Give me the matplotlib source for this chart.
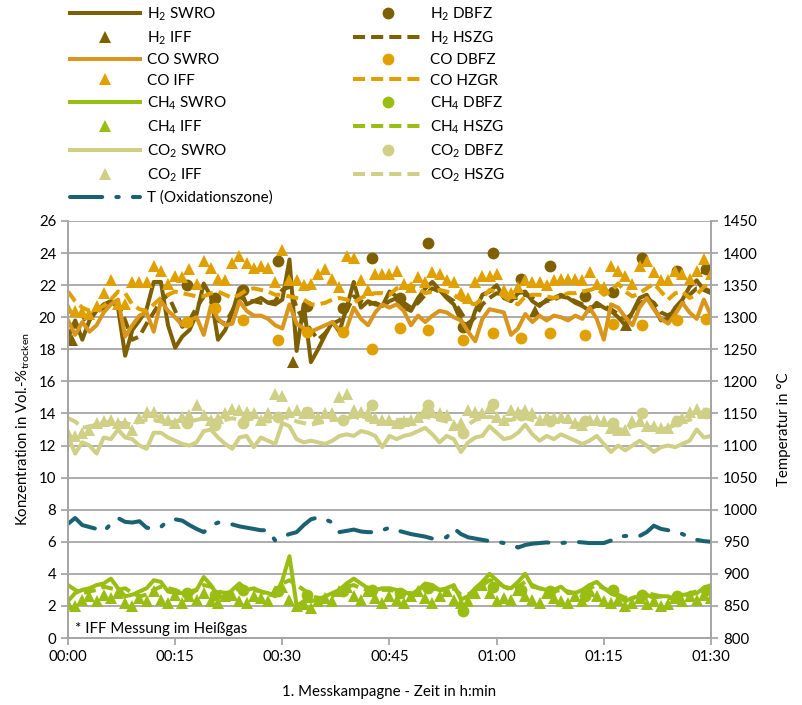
import matplotlib
matplotlib.use("Agg")
import matplotlib.pyplot as plt

plt.rcParams["font.family"] = ["Lato", "DejaVu Sans"]
plt.rcParams["mathtext.fontset"] = "custom"
plt.rcParams["mathtext.rm"] = "Lato"

# Zeitachse in Minuten (1-min-Raster) und DBFZ-Messzeitpunkte
minutes = list(range(91))
dbfz_minutes = [16.6, 20.6, 24.5, 29.4, 33.4, 38.5, 42.5, 46.4, 50.4,
                55.3, 59.5, 63.4, 67.4, 72.4, 76.3, 80.3, 85.3, 89.3]
h2_iff_minutes = [0.5, 31.5, 65.3, 78.1, 89.3]

h2_swro = [18.7, 19.8, 18.6, 19.8, 20.4, 20.8, 21.0, 20.6, 17.6, 19.2,
           19.8, 20.5, 22.2, 22.2, 19.5, 18.1, 18.8, 19.2, 20.2, 22.1,
           21.3, 18.6, 19.2, 20.3, 21.8, 20.8, 21.0, 21.2, 20.9, 20.8,
           21.1, 23.6, 17.9, 20.8, 17.2, 18.0, 18.9, 19.7, 19.1, 20.6,
           22.2, 20.6, 21.0, 20.8, 20.7, 21.6, 21.3, 20.6, 20.4, 21.2,
           21.8, 22.2, 21.7, 21.2, 20.8, 19.8, 19.1, 20.4, 21.4, 21.6,
           22.0, 21.2, 21.0, 21.5, 21.6, 21.0, 20.7, 21.1, 21.2, 21.4,
           21.2, 20.9, 20.7, 20.4, 20.9, 20.6, 20.4, 20.0, 19.5, 20.3,
           21.2, 21.4, 20.6, 19.8, 19.9, 20.6, 21.1, 21.9, 22.3, 21.7, 21.5]
h2_hszg = [19.6, 19.4, 19.8, 20.1, 20.3, 20.6, 20.9, 20.8, 19.8, 18.6,
           18.8, 19.6, 20.3, 21.0, 21.4, 20.4, 19.4, 19.8, 20.6, 21.3,
           21.0, 19.8, 19.6, 20.4, 21.3, 21.0, 21.0, 20.9, 20.9, 21.0,
           21.7, 21.9, 20.6, 19.8, 19.2, 18.6, 19.0, 19.6, 19.8, 20.4,
           21.3, 21.0, 20.8, 20.9, 20.7, 21.0, 21.2, 20.9, 20.6, 20.9,
           21.4, 21.8, 21.6, 21.3, 21.0, 20.3, 19.6, 20.0, 20.8, 21.2,
           21.5, 21.4, 21.2, 21.2, 21.4, 21.2, 20.8, 21.0, 21.1, 21.3,
           21.2, 21.0, 20.8, 20.6, 20.7, 20.7, 20.5, 20.2, 19.9, 20.2,
           20.8, 21.2, 20.9, 20.3, 20.1, 20.5, 20.9, 21.4, 21.8, 21.8, 21.6]
h2_iff = [18.6, 17.2, 20.4, 19.5, 23.1]
h2_dbfz = [22.0, 21.2, 21.7, 23.5, 20.7, 20.6, 23.7, 21.2, 24.6,
           19.4, 24.0, 22.4, 23.2, 21.3, 21.6, 23.7, 22.9, 23.0]

co_swro = [19.8, 18.9, 19.7, 19.1, 19.5, 20.3, 20.8, 21.1, 18.8, 19.5,
           20.1, 20.3, 19.1, 21.0, 20.4, 20.0, 19.5, 19.8, 20.0, 18.9,
           20.7, 19.9, 19.5, 19.6, 21.0, 20.4, 20.1, 20.1, 19.9, 19.5,
           19.3, 20.8, 19.6, 19.3, 19.1, 19.3, 19.5, 19.7, 19.2, 19.3,
           20.6, 19.9, 19.5, 20.3, 20.8, 20.6, 20.8, 20.4, 19.5, 20.1,
           19.7, 20.1, 20.4, 20.3, 20.0, 19.8, 19.1, 18.5, 19.9, 20.5,
           20.4, 20.3, 18.9, 19.3, 20.2, 19.7, 20.1, 19.8, 20.1, 20.0,
           19.8, 20.1, 19.9, 20.6, 19.9, 18.6, 20.8, 20.6, 20.0, 19.5,
           20.6, 21.2, 20.5, 19.9, 19.6, 20.2, 20.9, 20.3, 19.9, 21.1, 20.1]
co_hzgr = [21.6, 21.0, 20.6, 20.4, 20.5, 20.7, 21.1, 21.6, 21.5, 20.8,
           20.5, 20.4, 20.8, 21.2, 21.4, 21.6, 21.5, 21.4, 21.3, 21.3,
           21.5, 21.6, 21.4, 21.2, 21.4, 21.7, 21.8, 21.7, 21.6, 21.4,
           21.4, 21.3, 21.2, 21.1, 20.8, 20.8, 20.9, 21.1, 21.2, 21.1,
           20.9, 21.2, 21.4, 21.5, 21.5, 21.4, 21.8, 21.8, 22.0, 21.8,
           21.5, 21.6, 21.7, 21.6, 21.4, 21.1, 20.9, 20.8, 21.2, 21.7,
           21.6, 21.3, 21.0, 20.8, 21.3, 21.4, 21.4, 21.3, 21.2, 21.3,
           21.5, 21.5, 21.6, 21.7, 21.8, 21.4, 21.6, 22.1, 21.6, 21.3,
           21.5, 21.8, 22.1, 21.6, 21.1, 21.5, 21.6, 21.2, 21.4, 21.9, 22.1]
co_iff = [20.6, 20.4, 20.3, 20.2, 20.7, 21.5, 22.3, 20.8, 20.8, 22.2,
          22.2, 22.2, 23.2, 22.9, 22.1, 22.6, 22.5, 23.0, 22.1, 23.5,
          23.1, 22.4, 22.3, 23.4, 23.8, 23.4, 23.1, 23.2, 23.1, 22.2,
          24.2, 22.3, 22.3, 22.0, 22.1, 22.7, 23.0, 22.4, 21.9, 23.8,
          23.7, 22.3, 21.7, 22.7, 22.7, 22.7, 22.9, 22.1, 21.9, 22.5,
          22.2, 22.8, 22.7, 22.3, 22.2, 21.5, 21.2, 22.2, 22.6, 22.6,
          22.7, 21.7, 21.5, 21.9, 22.3, 22.2, 22.2, 22.0, 22.3, 22.4,
          22.4, 22.4, 22.3, 22.8, 22.1, 21.9, 23.2, 22.9, 22.6, 22.1,
          23.2, 23.5, 22.8, 22.3, 22.3, 22.9, 22.7, 22.4, 22.9, 23.6, 22.7]
co_dbfz = [19.7, 20.6, 19.8, 18.6, 19.1, 19.1, 18.0, 19.3, 19.2,
           18.6, 19.0, 18.7, 19.0, 18.9, 19.6, 19.5, 19.8, 19.9]

ch4_swro = [2.3, 2.8, 3.0, 3.1, 3.3, 3.4, 3.7, 3.1, 2.6, 2.7,
            2.9, 3.1, 3.6, 3.5, 2.9, 2.8, 2.8, 2.7, 3.0, 3.8,
            3.3, 2.6, 2.5, 3.0, 3.4, 3.0, 3.1, 2.9, 2.8, 2.6,
            3.6, 5.1, 2.0, 2.3, 2.3, 2.4, 2.6, 2.8, 3.0, 3.4,
            3.7, 3.4, 3.1, 3.0, 3.1, 3.1, 3.0, 2.9, 2.7, 3.0,
            3.4, 3.3, 3.0, 3.1, 3.3, 2.4, 2.6, 3.1, 3.5, 4.0,
            3.6, 3.2, 3.1, 3.5, 4.0, 3.2, 3.1, 3.0, 3.0, 3.2,
            2.8, 2.8, 3.0, 3.3, 3.5, 3.1, 2.8, 2.6, 2.3, 2.5,
            2.6, 2.7, 2.5, 2.6, 2.6, 2.4, 2.7, 2.7, 2.8, 3.1, 2.8]
ch4_hszg = [3.3, 3.0, 2.8, 2.9, 3.0, 3.2, 3.1, 3.0, 3.1, 2.8,
            2.6, 2.7, 3.0, 3.2, 3.1, 3.0, 2.8, 2.9, 3.0, 3.3,
            3.2, 2.9, 2.8, 2.9, 3.1, 3.0, 3.0, 2.9, 2.7, 2.8,
            3.4, 3.6, 3.3, 3.0, 2.6, 2.5, 2.5, 2.6, 3.0, 3.2,
            3.3, 3.1, 3.0, 2.9, 3.0, 3.0, 2.9, 2.8, 2.8, 3.0,
            3.2, 3.1, 3.0, 3.0, 3.1, 2.7, 2.7, 3.0, 3.3, 3.6,
            3.5, 3.2, 3.0, 3.2, 3.5, 3.3, 3.1, 3.0, 2.9, 3.0,
            2.9, 2.8, 2.9, 3.1, 3.3, 3.1, 2.9, 2.7, 2.5, 2.5,
            2.6, 2.8, 2.7, 2.6, 2.5, 2.4, 2.6, 2.8, 2.9, 3.1, 3.3]
ch4_iff = [2.1, 2.0, 2.4, 2.6, 2.3, 2.7, 2.5, 2.8, 2.2, 2.0,
           2.5, 2.3, 2.9, 2.4, 2.2, 2.7, 2.2, 2.6, 2.4, 2.8,
           2.3, 2.2, 2.6, 2.7, 2.3, 2.2, 2.6, 2.5, 2.3, 2.9,
           3.2, 2.4, 2.0, 2.1, 1.9, 2.3, 2.5, 2.3, 2.9, 3.2,
           2.6, 2.4, 2.9, 2.5, 2.2, 2.6, 2.4, 2.2, 2.6, 2.9,
           2.5, 2.2, 2.6, 2.9, 2.4, 2.2, 2.3, 2.8, 3.3, 2.8,
           2.3, 2.5, 2.4, 3.0, 2.6, 2.4, 2.2, 2.8, 2.5, 2.3,
           2.2, 2.6, 2.3, 2.9, 2.6, 2.3, 2.2, 2.4, 2.0, 2.2,
           2.5, 2.1, 2.3, 2.0, 2.1, 2.5, 2.3, 2.6, 2.4, 2.7, 2.5]
ch4_dbfz = [2.8, 2.7, 3.0, 2.9, 2.7, 2.9, 3.0, 2.8, 3.1,
            1.7, 3.2, 3.0, 2.9, 2.6, 3.0, 2.7, 2.6, 3.0]

co2_swro = [12.6, 11.5, 12.2, 12.0, 11.5, 12.5, 12.4, 13.0, 12.5, 12.4,
            12.0, 11.8, 12.8, 12.8, 12.5, 12.3, 12.1, 12.0, 12.2, 12.9,
            13.0, 12.5, 12.1, 11.8, 12.5, 12.6, 11.9, 12.5, 12.3, 12.1,
            13.4, 13.2, 12.4, 12.2, 12.3, 12.2, 12.1, 12.3, 12.6, 12.7,
            12.6, 12.9, 12.8, 12.6, 11.9, 12.6, 12.4, 12.6, 12.7, 12.9,
            13.1, 12.7, 12.2, 12.6, 12.4, 11.6, 12.2, 12.5, 12.6, 13.2,
            12.8, 12.4, 12.5, 12.8, 13.3, 12.7, 12.3, 12.6, 12.4, 12.7,
            12.5, 12.3, 12.1, 12.3, 12.6, 12.1, 11.6, 12.0, 11.7, 12.0,
            12.3, 12.0, 11.6, 11.9, 12.0, 11.9, 12.1, 12.3, 13.0, 12.5, 12.6]
co2_hszg = [13.7, 13.5, 13.1, 13.2, 13.3, 13.4, 13.5, 13.4, 13.4, 13.3,
            13.5, 13.6, 13.6, 13.5, 13.4, 13.5, 13.6, 13.5, 13.6, 13.7,
            13.6, 13.5, 13.6, 13.7, 13.6, 13.6, 13.7, 13.6, 13.5, 13.6,
            13.8, 13.7, 13.5, 13.4, 13.3, 13.4, 13.5, 13.6, 13.6, 13.7,
            13.8, 13.7, 13.6, 13.5, 13.5, 13.4, 13.5, 13.6, 13.6, 13.7,
            13.8, 13.7, 13.6, 13.5, 13.3, 13.1, 13.3, 13.6, 13.7, 13.8,
            13.7, 13.6, 13.6, 13.7, 13.7, 13.6, 13.5, 13.5, 13.5, 13.6,
            13.5, 13.4, 13.3, 13.4, 13.4, 13.3, 13.1, 13.0, 13.0, 13.2,
            13.3, 13.2, 13.1, 13.0, 13.1, 13.3, 13.5, 13.6, 13.8, 13.9, 13.8]
co2_iff = [12.8, 12.6, 12.8, 13.0, 13.4, 13.5, 13.6, 13.4, 13.4, 13.0,
           13.7, 14.1, 14.1, 13.8, 13.6, 13.4, 13.8, 13.9, 14.5, 13.9,
           13.6, 13.7, 14.0, 14.3, 14.2, 14.1, 14.0, 13.6, 14.0, 15.2,
           15.1, 14.1, 14.2, 14.0, 14.0, 13.8, 14.0, 14.0, 15.0, 15.2,
           14.2, 14.1, 14.0, 13.7, 13.6, 13.6, 13.4, 13.5, 13.6, 13.8,
           14.2, 14.1, 14.0, 13.9, 13.3, 13.4, 14.2, 14.1, 14.0, 14.4,
           13.8, 13.6, 14.2, 14.1, 14.2, 14.0, 13.6, 13.8, 13.7, 13.8,
           13.7, 13.4, 13.3, 13.6, 13.6, 13.5, 13.1, 13.0, 13.0, 13.5,
           13.5, 13.2, 13.2, 13.1, 13.1, 13.5, 13.7, 14.1, 14.3, 14.0, 14.0]
co2_dbfz = [13.4, 13.3, 13.4, 13.8, 14.1, 13.6, 14.5, 13.4, 14.5,
            12.8, 14.6, 13.9, 13.5, 13.5, 13.4, 14.0, 13.5, 14.0]

temp_oxidation = [978, 987, 976, 973, 970, 966, 978, 987, 981, 980,
                  982, 972, 970, 973, 983, 985, 983, 976, 970, 965,
                  975, 980, 979, 977, 974, 972, 970, 968, 968, 952,
                  958, 962, 965, 976, 985, 988, 985, 980, 965, 967,
                  969, 966, 965, 965, 968, 972, 968, 965, 962, 960,
                  958, 955, 956, 957, 971, 962, 957, 955, 953, 951,
                  950, 948, 946, 941, 945, 947, 948, 949, 948, 948,
                  949, 950, 949, 948, 948, 948, 952, 958, 959, 959,
                  959, 965, 975, 970, 968, 966, 962, 957, 953, 951, 950]

xtick_minutes = [0, 15, 30, 45, 60, 75, 90]
xtick_labels = ["00:00", "00:15", "00:30", "00:45", "01:00", "01:15", "01:30"]

C_H2 = "#7F6000"
C_CO = "#E0A000"
C_CO_LINE = "#D9961C"
C_CH4 = "#99BD12"
C_CO2 = "#CFCF86"
C_T = "#1A6272"
GRID = "#A6A6A6"

LW = 2.9
DASH = (0, (3.0, 1.5))
MS_TRI = 8.5
MS_CIR = 8.5

fig = plt.figure(figsize=(8.03, 7.05), dpi=100)
ax = fig.add_axes([68 / 803, 1 - 638 / 705, (711 - 68) / 803, (638 - 221) / 705])
ax2 = ax.twinx()

gases = [
    ("H$_{\\mathregular{2}}$", C_H2, C_H2, h2_swro, h2_dbfz, (h2_iff_minutes, h2_iff), h2_hszg, "HSZG"),
    ("CO", C_CO_LINE, C_CO, co_swro, co_dbfz, (minutes, co_iff), co_hzgr, "HZGR"),
    ("CH$_{\\mathregular{4}}$", C_CH4, C_CH4, ch4_swro, ch4_dbfz, (minutes, ch4_iff), ch4_hszg, "HSZG"),
    ("CO$_{\\mathregular{2}}$", C_CO2, C_CO2, co2_swro, co2_dbfz, (minutes, co2_iff), co2_hszg, "HSZG"),
]

col1, col2 = [], []
for name, c_line, c_mark, swro, dbfz, iff, hszg, hlab in gases:
    l1, = ax.plot(minutes, swro, color=c_line, lw=LW, solid_joinstyle="round",
                  label=f"{name} SWRO")
    l2, = ax.plot(dbfz_minutes, dbfz, "o", color=c_mark, ms=MS_CIR, mew=0,
                  label=f"{name} DBFZ")
    l3, = ax.plot(iff[0], iff[1], "^", color=c_mark, ms=MS_TRI, mew=0,
                  label=f"{name} IFF")
    l4, = ax.plot(minutes, hszg, color=c_mark, lw=LW, linestyle=DASH,
                  label=f"{name} {hlab}")
    col1 += [l1, l3]
    col2 += [l2, l4]

lt, = ax2.plot(minutes, temp_oxidation, color=C_T, lw=LW,
               linestyle=(0, (8, 3.5, 0.6, 3.5)), dash_capstyle="round",
               label="T (Oxidationszone)")
col1.append(lt)

ax.set_xlim(0, 90)
ax.set_ylim(0, 26)
ax.set_yticks(range(0, 27, 2))
ax2.set_ylim(800, 1450)
ax2.set_yticks(range(800, 1451, 50))
ax.set_xticks(xtick_minutes)
ax.set_xticklabels(xtick_labels)

ax.grid(axis="y", color=GRID, lw=1.3)
ax.set_axisbelow(True)
for a in (ax, ax2):
    a.spines["top"].set_visible(False)
    for s in ("left", "right", "bottom"):
        a.spines[s].set_color(GRID)
        a.spines[s].set_linewidth(1.3)
    a.tick_params(colors=GRID, labelcolor="black", labelsize=10.8, length=5, width=1.3)

ax.set_ylabel("Konzentration in Vol.-%$_{\\mathregular{trocken}}$", fontsize=10.8, labelpad=5)
ax2.set_ylabel("Temperatur in °C", fontsize=10.8, labelpad=14)
ax.set_xlabel("1. Messkampagne - Zeit in h:min", fontsize=10.8, labelpad=15)

ax.text(1.0, 0.55, "* IFF Messung im Heißgas", fontsize=10.8, ha="left", va="center")

leg_kw = dict(frameon=False, fontsize=11, handlelength=4.6, handletextpad=0.45,
              labelspacing=0.42, borderpad=0, borderaxespad=0, loc="upper left")
fig.legend(handles=col1, bbox_to_anchor=(70 / 803, 1 - 5 / 705), **leg_kw)
fig.legend(handles=col2, bbox_to_anchor=(353 / 803, 1 - 5 / 705), **leg_kw)

fig.savefig("out.png", dpi=100)
